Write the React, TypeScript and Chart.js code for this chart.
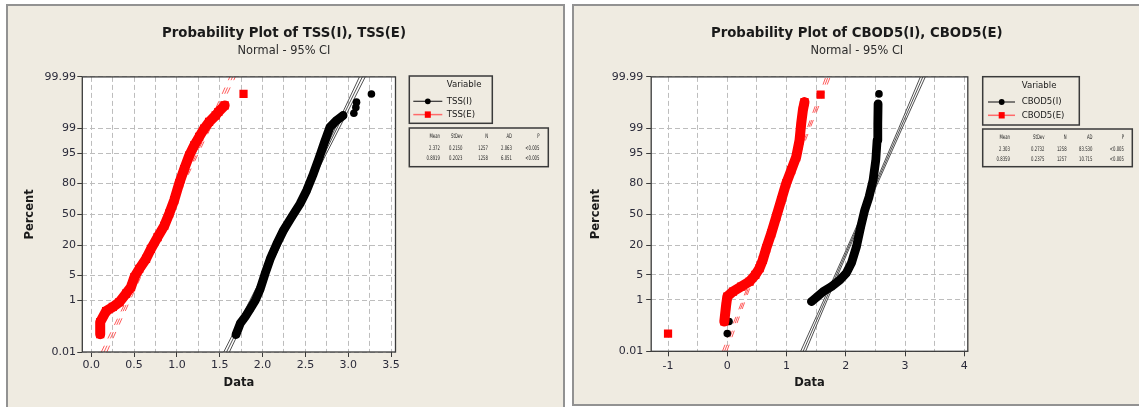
import React, { useEffect, useRef } from 'react';
import { Chart, registerables, Scale } from 'chart.js';

Chart.register(...registerables);

const FONT = '"DejaVu Sans", "Liberation Sans", sans-serif';

// ---- shared axis values ----
const PCT_TICKS = [0.01, 1, 5, 20, 50, 80, 95, 99, 99.99];
const FIT_PCT = [0.01, 99.99];
const CI_PCT = [0.01, 1, 50, 99, 99.99];
const STAT_HEADERS = ['Mean', 'StDev', 'N', 'AD', 'P'];

// ---- TSS panel ----
const TSS_X_GRID = [0, 0.25, 0.5, 0.75, 1, 1.25, 1.5, 1.75, 2, 2.25, 2.5, 2.75, 3, 3.25, 3.5];
const TSS_X_LABELS = ['0.0', '', '0.5', '', '1.0', '', '1.5', '', '2.0', '', '2.5', '', '3.0', '', '3.5'];

const TSS_I_X = [1.69, 1.74, 1.8, 1.857, 1.915, 1.973, 2.03, 2.09, 2.167, 2.244, 2.34, 2.438, 2.515, 2.593, 2.663, 2.729, 2.787, 2.864, 2.94];
const TSS_I_PCT = [0.058, 0.16, 0.29, 0.54, 1.0, 2.2, 5.5, 11.5, 21.5, 33.4, 47.2, 61.4, 74.2, 86.4, 93.9, 97.7, 99.09, 99.45, 99.63];
const TSS_I_OUT_X = [3.066, 3.089, 3.097, 3.271];
const TSS_I_OUT_PCT = [99.69, 99.81, 99.88, 99.944];
const TSS_I_FIT_X = [1.58, 3.165];
const TSS_I_CI_LO_X = [1.547, 1.852, 2.36, 2.848, 3.131];
const TSS_I_CI_HI_X = [1.613, 1.898, 2.384, 2.895, 3.199];
const TSS_I_STATS = ['2.372', '0.2150', '1257', '2.063', '<0.005'];

const TSS_E_X = [0.105, 0.105, 0.174, 0.252, 0.329, 0.407, 0.465, 0.504, 0.562, 0.64, 0.698, 0.775, 0.853, 0.911, 0.969, 1.027, 1.085, 1.143, 1.202, 1.26, 1.318, 1.376, 1.453, 1.484, 1.558];
const TSS_E_PCT = [0.06, 0.18, 0.45, 0.62, 0.89, 1.62, 2.5, 4.5, 7.1, 11.5, 17.6, 27, 38, 51, 65, 80, 89, 94.4, 96.9, 98.2, 98.98, 99.38, 99.63, 99.72, 99.84];
const TSS_E_OUT_X = [1.778];
const TSS_E_OUT_PCT = [99.944];
const TSS_E_FIT_X = [0.15, 1.65];
const TSS_E_CI_LO_X = [0.118, 0.41, 0.889, 1.348, 1.618];
const TSS_E_CI_HI_X = [0.182, 0.453, 0.911, 1.39, 1.682];
const TSS_E_STATS = ['0.8919', '0.2023', '1258', '6.051', '<0.005'];

// ---- CBOD5 panel ----
const CBOD_X_GRID = [-1, -0.5, 0, 0.5, 1, 1.5, 2, 2.5, 3, 3.5, 4];
const CBOD_X_LABELS = ['-1', '', '0', '', '1', '', '2', '', '3', '', '4'];

const CBOD_I_X = [1.42, 1.505, 1.62, 1.76, 1.9, 2.01, 2.095, 2.18, 2.253, 2.32, 2.393, 2.46, 2.506, 2.528, 2.54, 2.545];
const CBOD_I_PCT = [0.89, 1.2, 1.8, 2.5, 3.7, 5.5, 9.2, 18.9, 36.7, 54.4, 68, 82, 92.8, 97.7, 99.29, 99.86];
const CBOD_I_OUT_X = [0.0, 0.03, 2.56];
const CBOD_I_OUT_PCT = [0.06, 0.18, 99.944];
const CBOD_I_FIT_X = [1.28, 3.3];
const CBOD_I_CI_LO_X = [1.238, 1.629, 2.275, 2.893, 3.258];
const CBOD_I_CI_HI_X = [1.322, 1.687, 2.305, 2.951, 3.342];
const CBOD_I_STATS = ['2.303', '0.2732', '1258', '83.530', '<0.005'];

const CBOD_E_X = [-0.05, -0.022, 0.0, 0.096, 0.236, 0.376, 0.472, 0.545, 0.6, 0.657, 0.742, 0.826, 0.91, 0.994, 1.079, 1.163, 1.219, 1.247, 1.275, 1.303];
const CBOD_E_PCT = [0.18, 0.62, 1.27, 1.79, 2.48, 3.37, 4.96, 7.1, 10.7, 17.7, 30, 47, 64.7, 79.7, 88.3, 93.9, 97.7, 99.29, 99.75, 99.88];
const CBOD_E_OUT_X = [-1.0, 1.575];
const CBOD_E_OUT_PCT = [0.06, 99.94];
const CBOD_E_FIT_X = [-0.045, 1.7];
const CBOD_E_CI_LO_X = [-0.082, 0.257, 0.814, 1.348, 1.663];
const CBOD_E_CI_HI_X = [-0.008, 0.307, 0.841, 1.398, 1.737];
const CBOD_E_STATS = ['0.8359', '0.2375', '1257', '10.715', '<0.005'];

// ---- normal probability helpers ----
function probit(p: number): number {
  const a = [-3.969683028665376e1, 2.209460984245205e2, -2.759285104469687e2, 1.38357751867269e2, -3.066479806614716e1, 2.506628277459239];
  const b = [-5.447609879822406e1, 1.615858368580409e2, -1.556989798598866e2, 6.680131188771972e1, -1.328068155288572e1];
  const c = [-7.784894002430293e-3, -3.223964580411365e-1, -2.400758277161838, -2.549732539343734, 4.374664141464968, 2.938163982698783];
  const d = [7.784695709041462e-3, 3.224671290700398e-1, 2.445134137142996, 3.754408661907416];
  const pl = 0.02425;
  if (p < pl) {
    const q = Math.sqrt(-2 * Math.log(p));
    return (((((c[0] * q + c[1]) * q + c[2]) * q + c[3]) * q + c[4]) * q + c[5]) / ((((d[0] * q + d[1]) * q + d[2]) * q + d[3]) * q + 1);
  }
  if (p <= 1 - pl) {
    const q = p - 0.5;
    const r = q * q;
    return ((((((a[0] * r + a[1]) * r + a[2]) * r + a[3]) * r + a[4]) * r + a[5]) * q) / (((((b[0] * r + b[1]) * r + b[2]) * r + b[3]) * r + b[4]) * r + 1);
  }
  const q = Math.sqrt(-2 * Math.log(1 - p));
  return -(((((c[0] * q + c[1]) * q + c[2]) * q + c[3]) * q + c[4]) * q + c[5]) / ((((d[0] * q + d[1]) * q + d[2]) * q + d[3]) * q + 1);
}

function normCdf(z: number): number {
  const t = 1 / (1 + 0.2316419 * Math.abs(z));
  const dd = 0.3989423 * Math.exp((-z * z) / 2);
  const p = dd * t * (0.3193815 + t * (-0.3565638 + t * (1.781478 + t * (-1.821256 + t * 1.330274))));
  return z > 0 ? 1 - p : p;
}

class ProbabilityScale extends Scale {
  static id = 'probability';
  static defaults = {};
  parse(raw: any) {
    const v = +raw;
    return Number.isFinite(v) ? v : null;
  }
  determineDataLimits() {
    this.min = this.options.min;
    this.max = this.options.max;
  }
  buildTicks() {
    return PCT_TICKS.map((value) => ({ value }));
  }
  getLabelForValue(v: number) {
    return String(v);
  }
  configure() {
    super.configure();
    (this as any)._zMin = probit(this.min / 100);
    (this as any)._zRange = probit(this.max / 100) - (this as any)._zMin;
  }
  getPixelForValue(v: number) {
    return this.getPixelForDecimal((probit(v / 100) - (this as any)._zMin) / (this as any)._zRange);
  }
  getValueForPixel(px: number) {
    return 100 * normCdf((this as any)._zMin + this.getDecimalForPixel(px) * (this as any)._zRange);
  }
}
Chart.register(ProbabilityScale);

// ---- styles ----
const BLACK = { color: '#000000', line: '#505050', legendLine: '#303030', pointStyle: 'circle', radius: 3.8, band: 8.8, dash: [] as number[] };
const RED = { color: '#ff0000', line: '#ff5c5c', legendLine: '#ff6a6a', pointStyle: 'rect', radius: 5.8, band: 10, dash: [7, 8] };
const GRID = '#bdbdbd';
const TICK_TEXT = '#2b2b3a';
const TITLE_TEXT = '#1a1a1a';

const pts = (xs: number[], ps: number[]) => xs.map((x, i) => ({ x, y: ps[i] }));

function seriesDatasets(s: any, st: any, dataOrder: number, lineOrder: number) {
  const lineDs = (data: any[]) => ({
    data,
    showLine: true,
    borderColor: st.line,
    borderWidth: 1,
    borderDash: st.dash,
    pointRadius: 0,
    order: lineOrder,
  });
  return [
    {
      label: s.name,
      data: pts(s.x, s.pct),
      showLine: true,
      borderColor: st.color,
      borderWidth: st.band,
      borderJoinStyle: 'round',
      borderCapStyle: 'round',
      pointStyle: st.pointStyle,
      pointRadius: st.radius,
      pointBackgroundColor: st.color,
      pointBorderWidth: 0,
      order: dataOrder,
    },
    {
      data: pts(s.outX, s.outPct),
      showLine: false,
      pointStyle: st.pointStyle,
      pointRadius: st.radius,
      pointBackgroundColor: st.color,
      pointBorderWidth: 0,
      order: dataOrder,
    },
    lineDs(pts(s.fitX, FIT_PCT)),
    lineDs(pts(s.ciLo, CI_PCT)),
    lineDs(pts(s.ciHi, CI_PCT)),
  ];
}

function decorPlugin(p: any) {
  return {
    id: 'decor',
    beforeDraw(chart: any) {
      const { ctx, chartArea: a } = chart;
      ctx.save();
      ctx.fillStyle = '#ffffff';
      ctx.fillRect(a.left, a.top, a.right - a.left, a.bottom - a.top);
      ctx.restore();
    },
    afterDraw(chart: any) {
      const { ctx, chartArea: a } = chart;
      ctx.save();
      // plot frame
      ctx.strokeStyle = '#3a3a3a';
      ctx.lineWidth = 1.3;
      ctx.strokeRect(a.left, a.top, a.right - a.left, a.bottom - a.top);
      // titles
      ctx.textAlign = 'center';
      ctx.textBaseline = 'middle';
      ctx.fillStyle = TITLE_TEXT;
      ctx.font = `bold 13.3px ${FONT}`;
      ctx.fillText(p.title, p.titleX, 29.3);
      ctx.fillStyle = '#2a2a2a';
      ctx.font = `11.4px ${FONT}`;
      ctx.fillText(p.subtitle, p.titleX, 47);
      // legend box
      const L = p.legX;
      const T = p.legY;
      ctx.strokeStyle = '#3a3a3a';
      ctx.lineWidth = 1.5;
      ctx.strokeRect(L, T, p.legW, p.legH);
      ctx.textAlign = 'left';
      ctx.fillStyle = TITLE_TEXT;
      ctx.font = `8.6px ${FONT}`;
      ctx.fillText('Variable', L + p.legTextDx, T + 9.2);
      const entries = [
        { name: p.i.name, st: BLACK, y: T + 25.3 },
        { name: p.e.name, st: RED, y: T + 38.6 },
      ];
      entries.forEach((en) => {
        ctx.strokeStyle = en.st.legendLine;
        ctx.lineWidth = en.st === RED ? 1.5 : 1.2;
        ctx.beginPath();
        ctx.moveTo(L + p.legLine0, en.y);
        ctx.lineTo(L + p.legLine1, en.y);
        ctx.stroke();
        ctx.fillStyle = en.st.color;
        if (en.st.pointStyle === 'circle') {
          ctx.beginPath();
          ctx.arc(L + p.legMarkDx, en.y, 2.9, 0, Math.PI * 2);
          ctx.fill();
        } else {
          ctx.fillRect(L + p.legMarkDx - 3, en.y - 3.2, 6, 6.4);
        }
        ctx.fillStyle = TITLE_TEXT;
        ctx.fillText(en.name, L + p.legTextDx, en.y);
      });
      // stats table
      ctx.strokeStyle = '#3a3a3a';
      ctx.lineWidth = 1.5;
      ctx.strokeRect(p.statX, p.statY, p.statW, p.statH);
      const rows = [STAT_HEADERS, p.i.stats, p.e.stats];
      const rowY = [8.3, 20.4, 30.3];
      ctx.font = `6px ${FONT}`;
      ctx.fillStyle = '#222222';
      ctx.textAlign = 'right';
      rows.forEach((row: string[], ri: number) => {
        row.forEach((txt: string, ci: number) => {
          ctx.save();
          ctx.translate(p.statX + p.statCols[ci], p.statY + rowY[ri]);
          ctx.scale(0.64, 1.05);
          ctx.fillText(txt, 0, 0);
          ctx.restore();
        });
      });
      ctx.restore();
    },
  };
}

function makeConfig(p: any) {
  const tickFont = { family: FONT, size: 11 };
  const axisTitleFont = { family: FONT, size: 11.5, weight: 'bold' };
  return {
    type: 'scatter',
    data: {
      datasets: [
        ...seriesDatasets(p.e, RED, 0, 2),
        ...seriesDatasets(p.i, BLACK, 1, 3),
      ],
    },
    options: {
      responsive: false,
      animation: false,
      events: [],
      layout: { padding: { left: 0, right: p.padRight, top: p.plotTop, bottom: 0 } },
      plugins: { legend: { display: false }, tooltip: { enabled: false }, title: { display: false } },
      scales: {
        x: {
          type: 'linear',
          bounds: 'data',
          min: p.xMin,
          max: p.xMax,
          afterBuildTicks: (s: any) => {
            s.ticks = p.xGrid.map((value: number) => ({ value }));
          },
          afterFit: (s: any) => {
            s.height = p.xHeight;
            s.paddingLeft = 0;
            s.paddingRight = 0;
          },
          grid: {
            color: GRID,
            lineWidth: 1,
            tickLength: 5,
            tickWidth: 1,
            tickBorderDash: [],
            tickColor: (c: any) => (p.xLabels[c.index] ? '#3a3a3a' : 'rgba(0,0,0,0)'),
          },
          border: { display: false, dash: [5, 3] },
          ticks: {
            autoSkip: false,
            maxRotation: 0,
            minRotation: 0,
            padding: p.xTickPad,
            color: TICK_TEXT,
            font: tickFont,
            callback: (_v: any, i: number) => p.xLabels[i],
          },
          title: { display: true, text: 'Data', color: TITLE_TEXT, font: axisTitleFont, padding: { top: 0, bottom: 16.8 } },
        },
        y: {
          type: 'probability',
          min: 0.01,
          max: 99.99,
          afterFit: (s: any) => {
            s.width = p.yWidth;
            s.paddingTop = 0;
            s.paddingBottom = 0;
          },
          grid: { color: GRID, lineWidth: 1, tickLength: 5, tickWidth: 1, tickBorderDash: [], tickColor: '#3a3a3a' },
          border: { display: false, dash: [5, 3] },
          ticks: {
            autoSkip: false,
            padding: p.yTickPad,
            color: TICK_TEXT,
            font: tickFont,
            callback: (v: any) => String(v),
          },
          title: { display: true, text: 'Percent', color: TITLE_TEXT, font: axisTitleFont, padding: { top: 17.1, bottom: 0 } },
        },
      },
    },
    plugins: [decorPlugin(p)],
  };
}

const PANEL_H = 403;

const LEFT_PANEL = {
  left: 6,
  width: 559,
  title: 'Probability Plot of TSS(I), TSS(E)',
  subtitle: 'Normal - 95% CI',
  titleX: 278,
  xMin: -0.104,
  xMax: 3.552,
  xGrid: TSS_X_GRID,
  xLabels: TSS_X_LABELS,
  plotTop: 72.9,
  padRight: 169.5,
  yWidth: 76.3,
  xHeight: 55,
  xTickPad: 2,
  yTickPad: 1.3,
  legX: 403.3,
  legY: 72,
  legW: 83,
  legH: 47.3,
  legTextDx: 37.4,
  legLine0: 4,
  legLine1: 33,
  legMarkDx: 18.5,
  statX: 403.3,
  statY: 124,
  statW: 139,
  statH: 38.7,
  statCols: [30.7, 53.2, 78.7, 102.7, 130.2],
  i: { name: 'TSS(I)', x: TSS_I_X, pct: TSS_I_PCT, outX: TSS_I_OUT_X, outPct: TSS_I_OUT_PCT, fitX: TSS_I_FIT_X, ciLo: TSS_I_CI_LO_X, ciHi: TSS_I_CI_HI_X, stats: TSS_I_STATS },
  e: { name: 'TSS(E)', x: TSS_E_X, pct: TSS_E_PCT, outX: TSS_E_OUT_X, outPct: TSS_E_OUT_PCT, fitX: TSS_E_FIT_X, ciLo: TSS_E_CI_LO_X, ciHi: TSS_E_CI_HI_X, stats: TSS_E_STATS },
};

const RIGHT_PANEL = {
  left: 572,
  width: 567,
  title: 'Probability Plot of CBOD5(I), CBOD5(E)',
  subtitle: 'Normal - 95% CI',
  titleX: 284.8,
  xMin: -1.284,
  xMax: 4.059,
  xGrid: CBOD_X_GRID,
  xLabels: CBOD_X_LABELS,
  plotTop: 72.9,
  padRight: 171.2,
  yWidth: 79.2,
  xHeight: 55.7,
  xTickPad: 3,
  yTickPad: 2.9,
  legX: 410.7,
  legY: 72.7,
  legW: 96.6,
  legH: 48.3,
  legTextDx: 39,
  legLine0: 5.3,
  legLine1: 32.3,
  legMarkDx: 19,
  statX: 410.7,
  statY: 125,
  statW: 149.6,
  statH: 37.7,
  statCols: [27.3, 61.8, 84, 109.8, 141.3],
  i: { name: 'CBOD5(I)', x: CBOD_I_X, pct: CBOD_I_PCT, outX: CBOD_I_OUT_X, outPct: CBOD_I_OUT_PCT, fitX: CBOD_I_FIT_X, ciLo: CBOD_I_CI_LO_X, ciHi: CBOD_I_CI_HI_X, stats: CBOD_I_STATS },
  e: { name: 'CBOD5(E)', x: CBOD_E_X, pct: CBOD_E_PCT, outX: CBOD_E_OUT_X, outPct: CBOD_E_OUT_PCT, fitX: CBOD_E_FIT_X, ciLo: CBOD_E_CI_LO_X, ciHi: CBOD_E_CI_HI_X, stats: CBOD_E_STATS },
};

function ProbPanel({ p }: { p: any }) {
  const ref = useRef<HTMLCanvasElement | null>(null);
  useEffect(() => {
    if (!ref.current) return;
    const chart = new Chart(ref.current, makeConfig(p) as any);
    return () => chart.destroy();
  }, [p]);
  return (
    <canvas
      ref={ref}
      width={p.width}
      height={PANEL_H}
      style={{ position: 'absolute', left: p.left, top: 4, width: p.width, height: PANEL_H }}
    />
  );
}

const BG = '#efebe1';
const FRAME = 'inset 0 0 0 2px #929292';

export default function App() {
  return (
    <div style={{ position: 'absolute', left: 0, top: 0, width: 1139, height: 407, overflow: 'hidden', background: '#ffffff' }}>
      <div style={{ position: 'absolute', left: 6, top: 4, width: 559, height: 420, background: BG, boxShadow: FRAME }} />
      <div style={{ position: 'absolute', left: 572, top: 4, width: 600, height: 402, background: BG, boxShadow: FRAME }} />
      <ProbPanel p={LEFT_PANEL} />
      <ProbPanel p={RIGHT_PANEL} />
    </div>
  );
}
